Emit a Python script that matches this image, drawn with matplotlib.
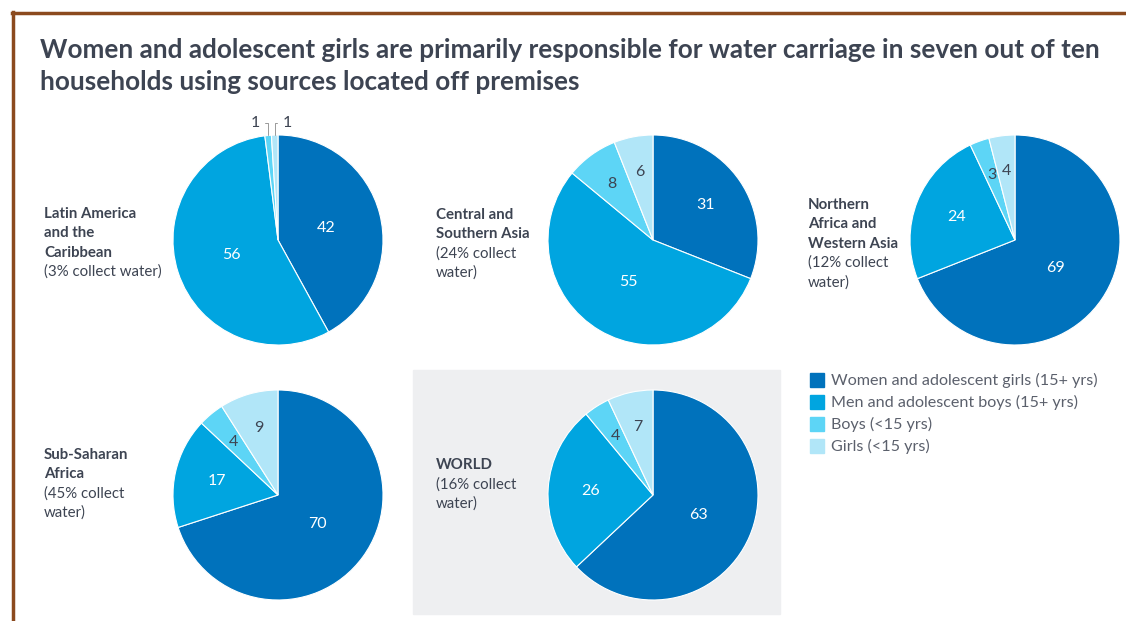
import matplotlib
matplotlib.use("Agg")
import matplotlib.pyplot as plt
from matplotlib.patches import Rectangle
from matplotlib.lines import Line2D
import numpy as np

plt.rcParams['font.family'] = ['Lato', 'DejaVu Sans']

# data
regions = ["Latin America\nand the\nCaribbean", "Central and\nSouthern Asia",
           "Northern\nAfrica and\nWestern Asia", "Sub-Saharan\nAfrica", "WORLD"]
collect = ["(3% collect water)", "(24% collect\nwater)", "(12% collect\nwater)",
           "(45% collect\nwater)", "(16% collect\nwater)"]
women = [42, 31, 69, 70, 63]
men = [56, 55, 24, 17, 26]
boys = [1, 8, 3, 4, 4]
girls = [1, 6, 4, 9, 7]
groups = ["Women and adolescent girls (15+ yrs)", "Men and adolescent boys (15+ yrs)",
          "Boys (<15 yrs)", "Girls (<15 yrs)"]

colors = ["#0072bc", "#00a5e0", "#5dd5f6", "#b1e6f8"]
txt_col = "#3d4452"
W, H = 1126, 621

# pixel layout: pie centres and first-line label anchors
pie_xy = [(278, 240), (653, 240), (1015, 240), (278, 495), (653, 495)]
lab_xy = [(44, 214), (436, 215), (808, 205), (44, 455), (436, 465)]
R = 105
step = 19.3


def fx(x):
    return x / W


def fy(y):
    return 1 - y / H


fig = plt.figure(figsize=(W / 100, H / 100), dpi=100)
bg = fig.add_axes([0, 0, 1, 1])
bg.set_xlim(0, W)
bg.set_ylim(H, 0)
bg.axis('off')

# border and world box
bg.add_line(Line2D([12, W], [13, 13], color="#8b4a1e", lw=2.5))
bg.add_line(Line2D([13, 13], [12, H], color="#8b4a1e", lw=2.5))
bg.add_patch(Rectangle((413, 370), 367, 244, color="#eeeff1", zorder=0))

bg.text(40, 50, "Women and adolescent girls are primarily responsible for water carriage in seven out of ten",
        fontsize=18.8, fontweight='bold', color=txt_col, va='center', ha='left')
bg.text(40, 82, "households using sources located off premises",
        fontsize=18.8, fontweight='bold', color=txt_col, va='center', ha='left')

for i in range(5):
    cx, cy = pie_xy[i]
    ax = fig.add_axes([fx(cx - R), fy(cy + R), 2 * R / W, 2 * R / H])
    vals = [women[i], men[i], boys[i], girls[i]]
    wedges, _ = ax.pie(vals, colors=colors, startangle=90, counterclock=False,
                       wedgeprops=dict(edgecolor='white', linewidth=0.8))
    ax.set_xlim(-1, 1)
    ax.set_ylim(-1, 1)
    for j, (w, v) in enumerate(zip(wedges, vals)):
        ang = np.deg2rad((w.theta1 + w.theta2) / 2)
        if v <= 1:
            continue
        d = 0.47 if v >= 40 else (0.6 if v >= 15 else 0.66)
        c = 'white' if j < 2 else txt_col
        ax.text(d * np.cos(ang), d * np.sin(ang), str(v), ha='center', va='center',
                fontsize=11.5, color=c)
    # tiny slices labelled outside with leader lines
    small = [(j, w, v) for j, (w, v) in enumerate(zip(wedges, vals)) if v <= 1]
    for k, (j, w, v) in enumerate(small):
        ang = np.deg2rad((w.theta1 + w.theta2) / 2)
        tx = -0.22 if k == 0 else 0.09
        ax.annotate(str(v), xy=(np.cos(ang), np.sin(ang)), xytext=(tx, 1.11),
                    ha='center', va='center', fontsize=11.5, color=txt_col,
                    annotation_clip=False,
                    arrowprops=dict(arrowstyle='-', color='#999999', lw=0.7,
                                    shrinkA=2, shrinkB=0,
                                    connectionstyle='angle,angleA=0,angleB=90,rad=0'))

    lx, ly = lab_xy[i]
    lines = [(s, 'bold') for s in regions[i].split("\n")] + \
            [(s, 'normal') for s in collect[i].split("\n")]
    for n, (s, wt) in enumerate(lines):
        bg.text(lx, ly + n * step, s, fontsize=10.8, fontweight=wt, color=txt_col,
                va='center', ha='left')

# legend
for k, g in enumerate(groups):
    y = 380 + k * 22
    bg.add_patch(Rectangle((810, y - 7), 14, 14, color=colors[k]))
    bg.text(831, y, g, fontsize=11.6, color="#5b606c", va='center', ha='left')

fig.savefig("out.png", dpi=100)
